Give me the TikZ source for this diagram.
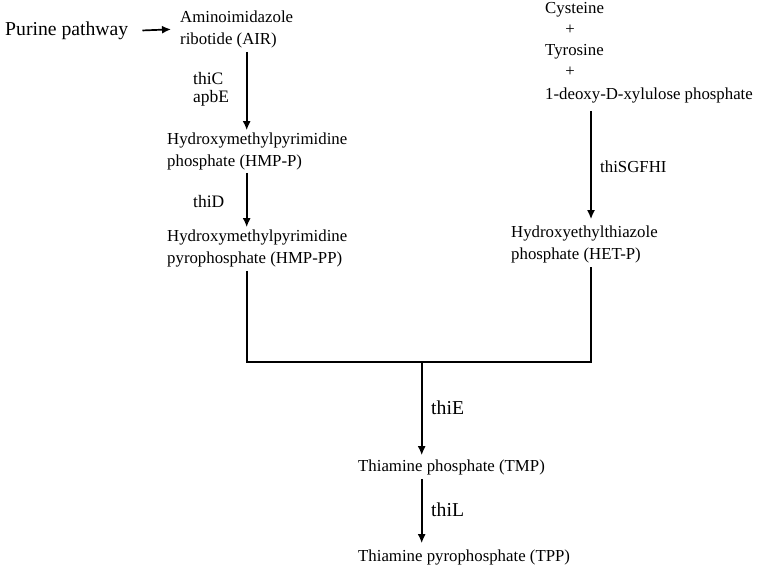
\documentclass[tikz,border=0pt]{standalone}
\usepackage{fontspec}
\setmainfont{Liberation Serif}
\usetikzlibrary{arrows.meta}
\begin{document}
\begin{tikzpicture}[x=1pt,y=-1pt,
  txt/.style={anchor=west,inner sep=0pt,align=left,font=\fontsize{16.8}{22}\selectfont},
  big/.style={anchor=west,inner sep=0pt,font=\fontsize{19.7}{23}\selectfont},
  lbl/.style={anchor=west,inner sep=0pt,font=\fontsize{17.5}{22}\selectfont},
  conn/.style={line width=1.7pt},
  arr/.style={line width=1.7pt,-{Latex[length=9pt,width=8pt]}}]
\useasboundingbox (0,0) rectangle (765,568);
\coordinate (colL) at (246.7,0);
\coordinate (colR) at (591,0);
\coordinate (colM) at (421.7,0);
\coordinate (junc) at (421.7,362);
% nodes
\node[big] (purine) at (5,31) {Purine pathway};
\node[txt] (air) at (180,29) {Aminoimidazole\\ribotide (AIR)};
\node[txt] (hmpp) at (167,151) {Hydroxymethylpyrimidine\\phosphate (HMP-P)};
\node[txt] (hmppp) at (167,248) {Hydroxymethylpyrimidine\\pyrophosphate (HMP-PP)};
\node[txt] (cys) at (545,10) {Cysteine};
\node[txt,anchor=center] (plus1) at (570,30) {+};
\node[txt] (tyr) at (545,52) {Tyrosine};
\node[txt,anchor=center] (plus2) at (570,72) {+};
\node[txt] (dxp) at (545,95) {1-deoxy-D-xylulose phosphate};
\node[txt] (hetp) at (511,244) {Hydroxyethylthiazole\\phosphate (HET-P)};
\node[txt] (tmp) at (358,467) {Thiamine phosphate (TMP)};
\node[txt] (tpp) at (358,557) {Thiamine pyrophosphate (TPP)};
% enzyme labels
\node[lbl] (thic) at (193,79) {thiC};
\node[lbl] (apbe) at (193,98) {apbE};
\node[lbl] (thid) at (193,202) {thiD};
\node[txt] (thisg) at (600,167) {thiSGFHI};
\node[big] (thie) at (431,408) {thiE};
\node[big] (thil) at (431,510) {thiL};
% connectors
\draw[arr,shorten <=14pt,shorten >=9pt] (purine.east) -- (air.west);
\draw[arr,shorten <=4pt,shorten >=2pt] (air.south -| colL) -- (hmpp.north -| colL);
\draw[arr,shorten <=3pt,shorten >=2pt] (hmpp.south -| colL) -- (hmppp.north -| colL);
\draw[arr,shorten <=8pt,shorten >=6pt] (dxp.south -| colR) -- (hetp.north -| colR);
\draw[conn] ([yshift=-4pt]hmppp.south -| colL) -- (colL |- junc) -- (colR |- junc) -- ([yshift=-4pt]hetp.south -| colR);
\draw[arr,shorten >=4pt] (junc) -- (tmp.north -| colM);
\draw[arr,shorten <=4pt,shorten >=6pt] (tmp.south -| colM) -- (tpp.north -| colM);
\end{tikzpicture}
\end{document}
